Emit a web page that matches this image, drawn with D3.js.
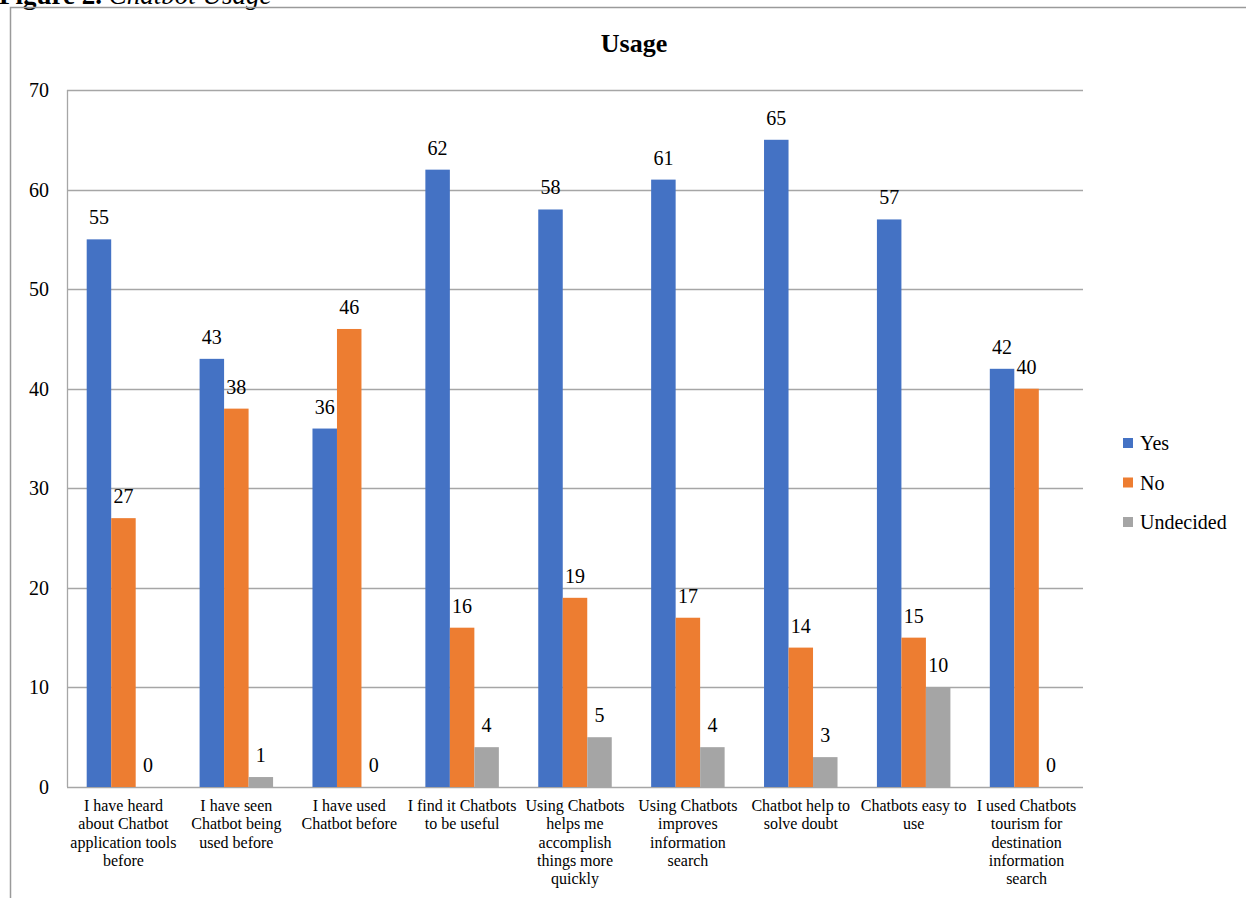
<!DOCTYPE html>
<html>
<head>
<meta charset="utf-8">
<script src="https://cdn.jsdelivr.net/npm/d3@7"></script>
<style>
  body { margin: 0; background: #fff; }
  svg text { font-family: "Liberation Serif", "Times New Roman", serif; fill: #000; }
</style>
</head>
<body>
<div id="cont"></div>
<script>
// Data
var categories = [
  ["I have heard", "about Chatbot", "application tools", "before"],
  ["I have seen", "Chatbot being", "used before"],
  ["I have used", "Chatbot before"],
  ["I find it Chatbots", "to be useful"],
  ["Using Chatbots", "helps me", "accomplish", "things more", "quickly"],
  ["Using Chatbots", "improves", "information", "search"],
  ["Chatbot help to", "solve doubt"],
  ["Chatbots easy to", "use"],
  ["I used Chatbots", "tourism for", "destination", "information", "search"]
];
var seriesNames = ["Yes", "No", "Undecided"];
var seriesColors = ["#4472C4", "#ED7D31", "#A5A5A5"];
var yes = [55, 43, 36, 62, 58, 61, 65, 57, 42];
var no = [27, 38, 46, 16, 19, 17, 14, 15, 40];
var undecided = [0, 1, 0, 4, 5, 4, 3, 10, 0];
var yTicks = [0, 10, 20, 30, 40, 50, 60, 70];

var series = [yes, no, undecided];

// Layout
var W = 1246, H = 898;
var plot = { left: 67, right: 1083, top: 90, bottom: 787 };

var svg = d3.select("#cont").append("svg")
    .attr("width", W)
    .attr("height", H)
    .attr("font-family", "'Liberation Serif', 'Times New Roman', serif");

// caption above frame (cut off at top in the original)
var cap = svg.append("text")
    .attr("x", -1)
    .attr("y", 4)
    .attr("font-size", 27);
cap.append("tspan").attr("font-weight", "bold").text("Figure 2.");
cap.append("tspan").attr("font-style", "italic").text(" Chatbot Usage");

// outer frame
svg.append("path")
    .attr("d", "M10.5," + H + "V7.5H" + W)
    .attr("fill", "none")
    .attr("stroke", "#9a9a9a")
    .attr("stroke-width", 1.5);

var x0 = d3.scaleBand()
    .domain(d3.range(categories.length))
    .range([plot.left, plot.right])
    .paddingInner(0.349)
    .paddingOuter(0.1745);

var x1 = d3.scaleBand()
    .domain(d3.range(seriesNames.length))
    .range([0, x0.bandwidth()]);

var y = d3.scaleLinear()
    .domain([0, 70])
    .range([plot.bottom, plot.top]);

// gridlines
svg.append("g")
    .selectAll("line")
    .data(yTicks)
    .join("line")
    .attr("x1", plot.left)
    .attr("x2", plot.right)
    .attr("y1", function(d) { return Math.round(y(d)) + 0.5; })
    .attr("y2", function(d) { return Math.round(y(d)) + 0.5; })
    .attr("stroke", "#a6a6a6")
    .attr("stroke-width", 1.3);

// left plot border
svg.append("line")
    .attr("x1", plot.left + 0.5).attr("x2", plot.left + 0.5)
    .attr("y1", plot.top).attr("y2", plot.bottom)
    .attr("stroke", "#a6a6a6")
    .attr("stroke-width", 1.3);

// y tick labels
svg.append("g")
    .selectAll("text")
    .data(yTicks)
    .join("text")
    .attr("x", 49)
    .attr("y", function(d) { return y(d) + 7; })
    .attr("text-anchor", "end")
    .attr("font-size", 20)
    .text(function(d) { return d; });

// bars
var groups = svg.append("g")
    .selectAll("g")
    .data(categories)
    .join("g")
    .attr("transform", function(d, i) { return "translate(" + x0(i) + ",0)"; });

groups.each(function(c, i) {
    var g = d3.select(this);
    series.forEach(function(s, k) {
        var v = s[i];
        if (v > 0) {
            g.append("rect")
                .attr("x", x1(k))
                .attr("width", x1.bandwidth())
                .attr("y", y(v))
                .attr("height", y(0) - y(v))
                .attr("fill", seriesColors[k]);
        }
        g.append("text")
            .attr("x", x1(k) + x1.bandwidth() / 2)
            .attr("y", y(v) - 15)
            .attr("text-anchor", "middle")
            .attr("font-size", 20)
            .text(v);
    });
});

// category labels
var labels = svg.append("g")
    .selectAll("text")
    .data(categories)
    .join("text")
    .attr("x", function(d, i) { return x0(i) + x0.bandwidth() / 2; })
    .attr("y", 811)
    .attr("text-anchor", "middle")
    .attr("font-size", 16);

labels.selectAll("tspan")
    .data(function(d) { return d; })
    .join("tspan")
    .attr("x", function() { return d3.select(this.parentNode).attr("x"); })
    .attr("dy", function(d, j) { return j === 0 ? 0 : 18.3; })
    .text(function(d) { return d; });

// title
svg.append("text")
    .attr("x", 634)
    .attr("y", 52)
    .attr("text-anchor", "middle")
    .attr("font-size", 26)
    .attr("font-weight", "bold")
    .text("Usage");

// legend
var legend = svg.append("g")
    .selectAll("g")
    .data(seriesNames)
    .join("g")
    .attr("transform", function(d, i) { return "translate(1123," + (443 + i * 39.5) + ")"; });

legend.append("rect")
    .attr("x", 0)
    .attr("y", -5)
    .attr("width", 10)
    .attr("height", 10)
    .attr("fill", function(d, i) { return seriesColors[i]; });

legend.append("text")
    .attr("x", 17)
    .attr("y", 7)
    .attr("font-size", 20)
    .text(function(d) { return d; });
</script>
</body>
</html>
